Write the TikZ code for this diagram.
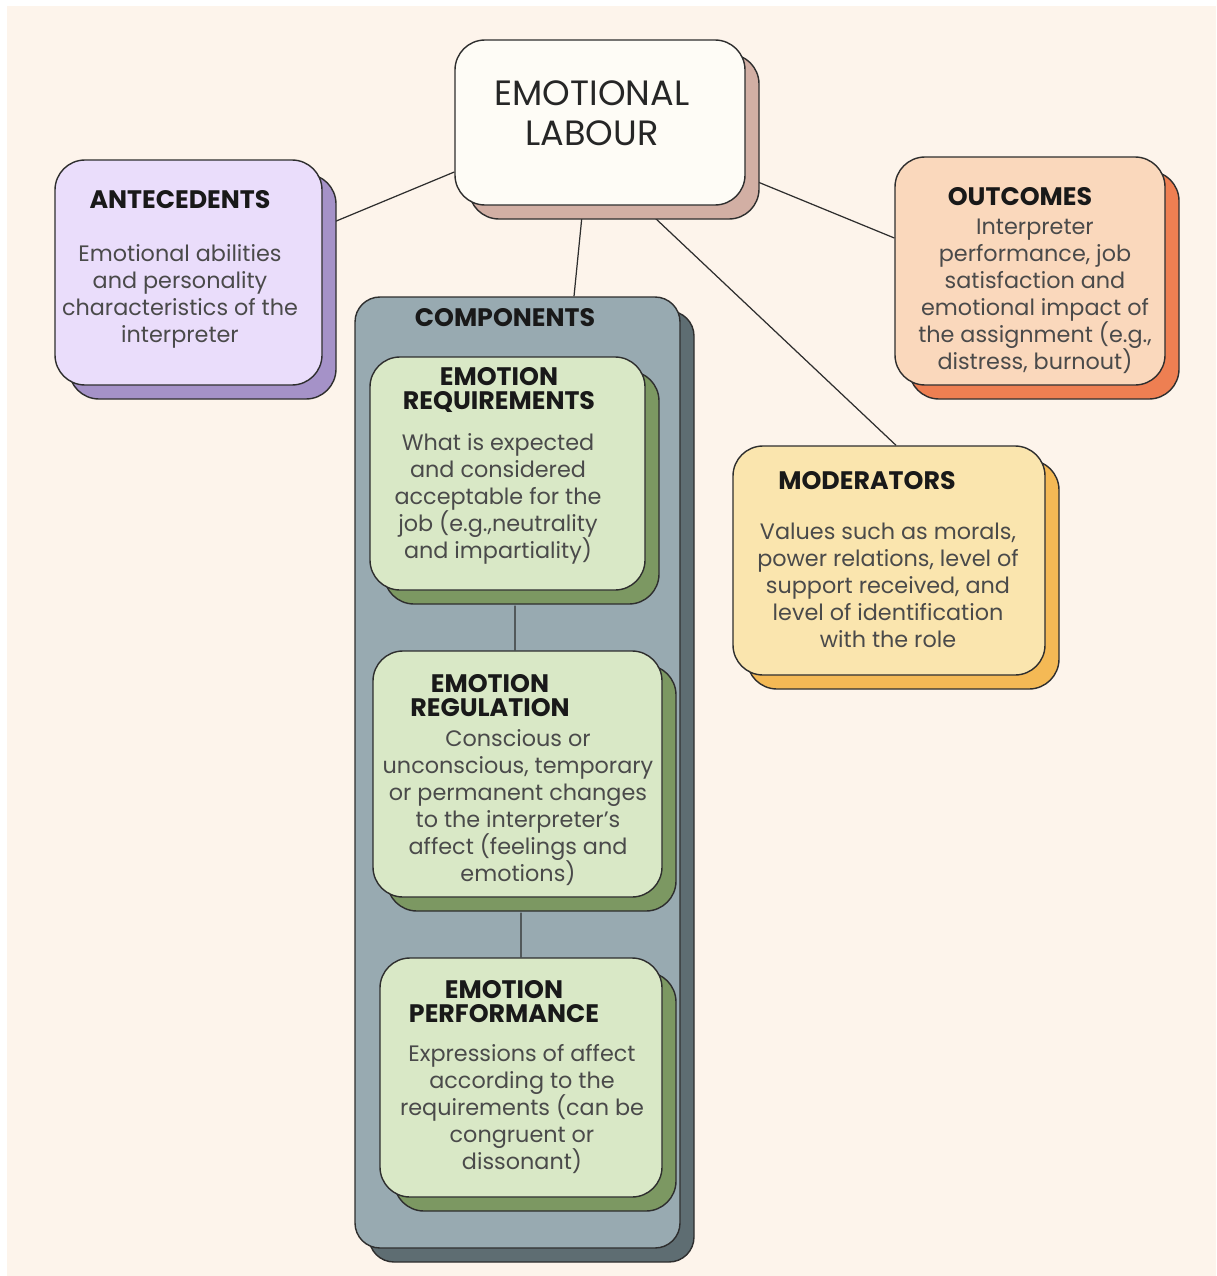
\documentclass[tikz,border=0pt]{standalone}
\usepackage{fontspec}
\setmainfont{Poppins}
\usetikzlibrary{positioning,calc}

\definecolor{paper}{HTML}{FDF4EB}
\definecolor{edgegrey}{HTML}{2E2E2E}
\definecolor{bodygrey}{HTML}{4A4A4A}
\definecolor{elfill}{HTML}{FEFCF6}
\definecolor{elshade}{HTML}{D2AFA4}
\definecolor{antfill}{HTML}{EADDFB}
\definecolor{antshade}{HTML}{A592C8}
\definecolor{outfill}{HTML}{FAD8BC}
\definecolor{outshade}{HTML}{EE7F52}
\definecolor{modfill}{HTML}{FAE5AE}
\definecolor{modshade}{HTML}{F4B955}
\definecolor{compfill}{HTML}{98AAB1}
\definecolor{compshade}{HTML}{5E6D72}
\definecolor{emofill}{HTML}{D9E8C6}
\definecolor{emoshade}{HTML}{7C9862}

\pgfdeclarelayer{paperlayer}
\pgfdeclarelayer{links}
\pgfsetlayers{paperlayer,links,main}

\tikzset{
  card/.style n args={3}{rectangle, rounded corners=#3, draw=edgegrey, line width=0.8pt, fill=#1,
    preaction={fill=#2, draw=edgegrey, line width=0.8pt, transform canvas={shift={(0.28,-0.28)}}}},
  head/.style={font=\bfseries\fontsize{14.4}{13.7}\selectfont, text=black!90, align=center, inner sep=0pt},
  body/.style={font=\fontsize{12.7}{15.4}\selectfont, text=bodygrey, align=center, inner sep=0pt},
  link/.style={draw=edgegrey, line width=0.7pt},
}

\begin{document}
\begin{tikzpicture}
		\useasboundingbox (0,0) rectangle (24.32,-25.52);
		\begin{pgfonlayer}{paperlayer}
			\fill[white] (0,0) rectangle (24.32,-25.52);
			\fill[paper] (0.14,-0.12) rectangle (24.32,-25.52);
		\end{pgfonlayer}
		
		% Central concept
		\node[card={elfill}{elshade}{0.6cm}, minimum width=5.8cm, minimum height=3.3cm] (el) at (12.0,-2.45) {};
		\node[font=\fontsize{20}{22.8}\selectfont, text=black!85, align=center, inner sep=0pt] (elT) at (11.84,-2.26) {EMOTIONAL\\LABOUR};
		
		% Side boxes
		\node[card={antfill}{antshade}{0.6cm}, minimum width=5.34cm, minimum height=4.5cm] (ant) at (3.77,-5.45) {};
		\node[head] (antH) at (3.6,-4.0) {ANTECEDENTS};
		\node[body] (antT) at (3.6,-5.93) {Emotional abilities\\and personality\\characteristics of the\\interpreter};
		
		\node[card={outfill}{outshade}{0.6cm}, minimum width=5.4cm, minimum height=4.56cm] (out) at (20.6,-5.42) {};
		\node[head] (outH) at (20.4,-3.94) {OUTCOMES};
		\node[body] (outT) at (20.7,-5.93) {Interpreter\\performance, job\\satisfaction and\\emotional impact of\\the assignment (e.g.,\\distress, burnout)};
		
		\node[card={modfill}{modshade}{0.6cm}, minimum width=6.24cm, minimum height=4.58cm] (mod) at (17.78,-11.21) {};
		\node[head] (modH) at (17.34,-9.62) {MODERATORS};
		\node[body] (modT) at (17.76,-11.71) {Values such as morals,\\power relations, level of\\support received, and\\level of identification\\with the role};
		
		% Components panel
		\node[card={compfill}{compshade}{0.5cm}, minimum width=6.5cm, minimum height=19.02cm] (comp) at (10.35,-15.45) {};
		\node[head] (compH) at (10.1,-6.36) {COMPONENTS};
		
		\node[card={emofill}{emoshade}{0.6cm}, minimum width=5.5cm, minimum height=4.66cm] (req) at (10.15,-9.47) {};
		\node[head] (reqH) at (9.98,-7.8) {EMOTION\\REQUIREMENTS};
		\node[body] (reqT) at (9.96,-9.98) {What is expected\\and considered\\acceptable for the\\job (e.g.,neutrality\\and impartiality)};
		
		\node[card={emofill}{emoshade}{0.6cm}, minimum width=5.78cm, minimum height=4.92cm] (reg) at (10.35,-15.48) {};
		\node[head] (regH) at (9.8,-13.91) {EMOTION\\REGULATION};
		\node[body] (regT) at (10.36,-16.15) {Conscious or\\unconscious, temporary\\or permanent changes\\to the interpreter’s\\affect (feelings and\\emotions)};
		
		\node[card={emofill}{emoshade}{0.6cm}, minimum width=5.64cm, minimum height=4.78cm] (perf) at (10.42,-21.55) {};
		\node[head] (perfH) at (10.08,-20.03) {EMOTION\\PERFORMANCE};
		\node[body] (perfT) at (10.44,-22.18) {Expressions of affect\\according to the\\requirements (can be\\congruent or\\dissonant)};
		
		% Links from the centre
		\begin{pgfonlayer}{links}
			\draw[link] ([yshift=-0.99cm]el.west) -- ([xshift=0.2cm,yshift=1.0cm]ant.east);
			\draw[link] ([xshift=-0.34cm]el.south) -- ([xshift=1.13cm]comp.north);
			\draw[link] ([xshift=0.84cm]el.south) -- ([xshift=0.14cm]mod.north);
			\draw[link] ([yshift=-1.09cm]el.east) -- ([yshift=0.66cm]out.west);
		\end{pgfonlayer}
		
		% Links between components
		\draw[link] ([xshift=0.15cm,yshift=-0.3cm]req.south) -- ([xshift=-0.05cm]reg.north);
		\draw[link] ([xshift=0.07cm,yshift=-0.3cm]reg.south) -- (perf.north);
	\end{tikzpicture}
\end{document}
